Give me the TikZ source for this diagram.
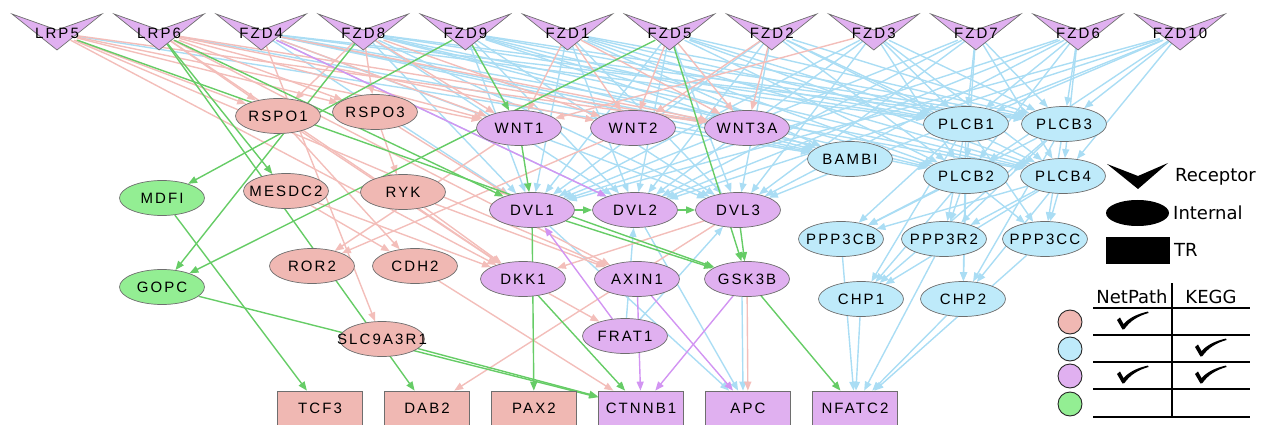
\documentclass[tikz,border=0pt]{standalone}
\usepackage{fontspec}
\usetikzlibrary{shapes.geometric,arrows.meta}
\newfontfamily\nodefont[LetterSpace=14]{Liberation Sans}
\newfontfamily\legfont{DejaVu Sans}

\definecolor{pinkN}{RGB}{240,184,179}
\definecolor{blueN}{RGB}{190,234,250}
\definecolor{purpN}{RGB}{224,176,240}
\definecolor{greenN}{RGB}{147,238,147}
\definecolor{pinkE}{RGB}{243,190,186}
\definecolor{blueE}{RGB}{170,221,244}
\definecolor{purpE}{RGB}{210,148,242}
\definecolor{greenE}{RGB}{102,204,102}
\definecolor{bord}{RGB}{110,110,110}

\pgfdeclarelayer{edges}
\pgfsetlayers{edges,main}

\newcommand\drawedges[2]{\foreach \s/\t in {#2} {\draw[#1] (\s) -- (\t);}}
% label set in a zero-width box so that the shape keeps its fixed size
\newcommand\fixlbl[1]{\makebox[0pt][c]{#1}}

\begin{document}
\begin{tikzpicture}[x=1pt,y=-1pt,
  lbl/.style={font={\nodefont\fontsize{15}{17}\selectfont}, text=black},
  intn/.style={lbl, ellipse, draw=bord, line width=0.7pt, minimum width=85pt, minimum height=35pt, inner sep=0pt},
  trbox/.style={lbl, rectangle, draw=bord, line width=0.7pt, minimum width=85pt, minimum height=34pt, inner sep=0pt},
  recnode/.style={lbl, inner sep=0pt, minimum width=40pt, minimum height=14pt},
  recshape/.style={fill=purpN, draw=bord, line width=0.7pt, line join=miter},
  edgebase/.style={line width=1.4pt, -{Triangle[length=9pt,width=7pt]}},
  eb/.style={edgebase, blueE},
  ep/.style={edgebase, pinkE},
  eu/.style={edgebase, purpE},
  eg/.style={edgebase, greenE},
  legtxt/.style={font={\legfont\fontsize{18}{20}\selectfont}, anchor=west, inner sep=0pt}
]
\useasboundingbox (0,0) rectangle (1262,425);

% receptors
\foreach \n [count=\i from 0] in {LRP5,LRP6,FZD4,FZD8,FZD9,FZD1,FZD5,FZD2,FZD3,FZD7,FZD6,FZD10} {
  \pgfmathsetmacro{\cx}{57+102.1*\i}
  \draw[recshape] (\cx-45,14) -- (\cx,30) -- (\cx+45,14) -- (\cx,50) -- cycle;
  \node[recnode] (\n) at (\cx,33) {\fixlbl{\n}};
}

% internal nodes
\foreach \n/\x/\y/\c in {
  RSPO1/278/116/pinkN, RSPO3/375/112/pinkN,
  WNT1/519/128/purpN, WNT2/633/128/purpN, WNT3A/747/128/purpN,
  PLCB1/966/124/blueN, PLCB3/1064/124/blueN, BAMBI/850/159/blueN,
  PLCB2/966/176/blueN, PLCB4/1063/176/blueN,
  MDFI/162/198/greenN, MESDC2/286/191/pinkN, RYK/403/192/pinkN,
  DVL1/532/210/purpN, DVL2/635/210/purpN, DVL3/738/210/purpN,
  PPP3CB/841/239/blueN, PPP3R2/944/239/blueN, PPP3CC/1045/239/blueN,
  ROR2/312/266/pinkN, CDH2/415/266/pinkN,
  DKK1/523/279/purpN, AXIN1/637/279/purpN, GSK3B/747/279/purpN,
  CHP1/861/299/blueN, CHP2/963/299/blueN,
  GOPC/162/287/greenN, SLC9A3R1/382/339/pinkN, FRAT1/625/336/purpN} {
  \node[intn, fill=\c] (\n) at (\x,\y) {\fixlbl{\n}};
}

% transcription regulators
\foreach \n/\x/\c in {TCF3/320/pinkN, DAB2/427/pinkN, PAX2/534/pinkN,
  CTNNB1/641/purpN, APC/748/purpN, NFATC2/855/purpN} {
  \node[trbox, fill=\c] (\n) at (\x,408) {\fixlbl{\n}};
}

\begin{pgfonlayer}{edges}
  % KEGG only
  \foreach \s in {FZD4,FZD8,FZD9,FZD1,FZD5,FZD2,FZD3,FZD7,FZD6,FZD10} {
    \foreach \t in {DVL1,DVL2,DVL3,PLCB1,PLCB2,PLCB3,PLCB4} {
      \draw[eb] (\s) -- (\t);
    }
  }
  \drawedges{eb}{LRP5/BAMBI, LRP6/BAMBI, FZD4/BAMBI, FZD8/BAMBI, FZD9/BAMBI, FZD1/BAMBI}
  \foreach \s in {PLCB1,PLCB2,PLCB3,PLCB4} {
    \foreach \t in {PPP3CB,PPP3R2,PPP3CC,CHP1,CHP2} {
      \draw[eb] (\s) -- (\t);
    }
  }
  \drawedges{eb}{PPP3CB/NFATC2, PPP3R2/NFATC2, PPP3CC/NFATC2, CHP1/NFATC2, CHP2/NFATC2,
    DVL1/APC, DVL2/APC, FRAT1/DVL2, FRAT1/DVL3}
  \draw[eb] ([xshift=-5pt]GSK3B.south) -- ([xshift=-5pt]APC.north);

  % NetPath only
  \drawedges{ep}{LRP5/RSPO1, LRP5/RSPO3, LRP5/WNT1, LRP5/WNT3A, LRP5/DKK1, LRP5/AXIN1,
    LRP6/RSPO1, LRP6/RSPO3, LRP6/WNT1, LRP6/WNT2, LRP6/WNT3A, LRP6/DKK1, LRP6/AXIN1,
    FZD4/WNT1, FZD4/WNT3A, FZD4/SLC9A3R1,
    FZD8/RSPO1, FZD8/RSPO3, FZD8/WNT1, FZD8/WNT2,
    FZD1/WNT1, FZD1/WNT2, FZD1/WNT3A, FZD5/WNT2, FZD5/WNT3A,
    FZD2/WNT2, FZD2/WNT3A, FZD3/WNT1,
    RSPO3/RYK, RSPO1/DKK1, RSPO1/CDH2, RSPO3/DVL1,
    MESDC2/CDH2, MESDC2/DKK1, RYK/DKK1, RYK/AXIN1,
    WNT1/ROR2, WNT2/ROR2, DVL3/DKK1, DVL3/DAB2,
    DKK1/FRAT1, CDH2/CTNNB1, GSK3B/APC}

  % both sources
  \drawedges{eu}{FZD4/DVL2, FRAT1/DVL1, AXIN1/CTNNB1, AXIN1/APC, GSK3B/CTNNB1}

  % neither source
  \drawedges{eg}{LRP6/MESDC2, LRP6/DAB2, LRP6/DVL1, LRP5/GSK3B,
    FZD9/MDFI, FZD8/GOPC, FZD5/GOPC, FZD9/WNT1, FZD5/GSK3B,
    WNT1/DVL1, DVL1/DVL2, DVL2/DVL3, DVL1/GSK3B, DVL3/GSK3B,
    DVL1/PAX2, DKK1/CTNNB1, GSK3B/NFATC2, GOPC/CTNNB1,
    SLC9A3R1/CTNNB1, MDFI/TCF3}
\end{pgfonlayer}

% shape legend
\fill (1107,164) -- (1138,176) -- (1168,163) -- (1138,189) -- cycle;
\node[legtxt] (legrec) at (1175,177) {Receptor};
\fill (1137.5,213) ellipse [x radius=31.5, y radius=13];
\node[legtxt] (legint) at (1173,213) {Internal};
\fill (1106,237) rectangle (1170,264);
\node[legtxt] (legtr) at (1174,250) {TR};

% source legend
\node[legtxt, anchor=center] (hnp) at (1132,297) {NetPath};
\node[legtxt, anchor=center] (hkg) at (1211,297) {KEGG};
\draw[line width=1.2pt] (1172,283) -- (1172,417);
\foreach \yy in {308,335,362,389,417} {
  \draw[line width=1.2pt] (1093,\yy) -- (1250,\yy);
}
\foreach \yy/\c in {322/pinkN, 349/blueN, 376/purpN, 404/greenN} {
  \draw[fill=\c, draw=black!85, line width=0.9pt] (1070,\yy) circle (12);
}
\foreach \cx/\cy in {1133/321, 1211/348, 1133/375, 1211/375} {
  \begin{scope}[shift={(\cx,\cy)}]
    \fill (-16,-1) -- (-13,-3.5) -- (-9.5,3) .. controls (-4,-3) and (4,-7) .. (15,-9.5)
      -- (15.5,-8) .. controls (5,-5) and (-3,0) .. (-8.5,8) -- (-10.5,8.5) -- cycle;
  \end{scope}
}
\end{tikzpicture}
\end{document}
